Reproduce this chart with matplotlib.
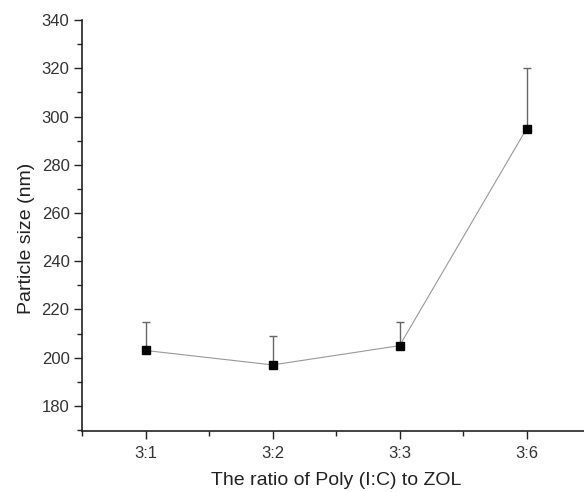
import matplotlib.pyplot as plt
from matplotlib.ticker import MultipleLocator

plt.rcParams['font.family'] = ['Liberation Sans', 'DejaVu Sans']

ratios = ['3:1', '3:2', '3:3', '3:6']
sizes = [203, 197, 205, 295]
errors = [12, 12, 10, 25]

fig = plt.figure(figsize=(5.84, 4.92), dpi=100)
ax = fig.add_axes([0.1405, 0.124, 0.87, 0.835])

pos = list(range(1, len(ratios) + 1))
ax.plot(pos, sizes, color='#999999', lw=0.8, zorder=2)
ax.errorbar(pos, sizes, yerr=[[0] * 4, errors], fmt='none', ecolor='#666666',
            elinewidth=1.0, capsize=3, capthick=1.0, zorder=1)
ax.plot(pos, sizes, 's', color='black', ms=6, zorder=3)

ax.set_xlim(0.5, 4.5)
ax.set_ylim(169.6, 340)
ax.set_xticks(pos)
ax.set_xticklabels(ratios)
ax.xaxis.set_minor_locator(MultipleLocator(0.5))
ax.yaxis.set_minor_locator(MultipleLocator(10))
ax.set_yticks(range(180, 341, 20))

for s in ['top', 'right']:
    ax.spines[s].set_visible(False)
for s in ['left', 'bottom']:
    ax.spines[s].set_color('#222222')
    ax.spines[s].set_linewidth(1.2)

ax.tick_params(which='major', direction='out', length=6, width=1, color='#222222',
               labelsize=12, labelcolor='#333333', pad=3)
ax.tick_params(axis='x', which='major', pad=5)
ax.tick_params(which='minor', direction='out', length=3.5, width=1, color='#222222')

ax.set_xlabel('The ratio of Poly (I:C) to ZOL', fontsize=14, color='#222222', labelpad=8)
ax.set_ylabel('Particle size (nm)', fontsize=14, color='#222222')
ax.yaxis.set_label_coords(-0.093, 0.47)

fig.savefig('out.png', dpi=100)
